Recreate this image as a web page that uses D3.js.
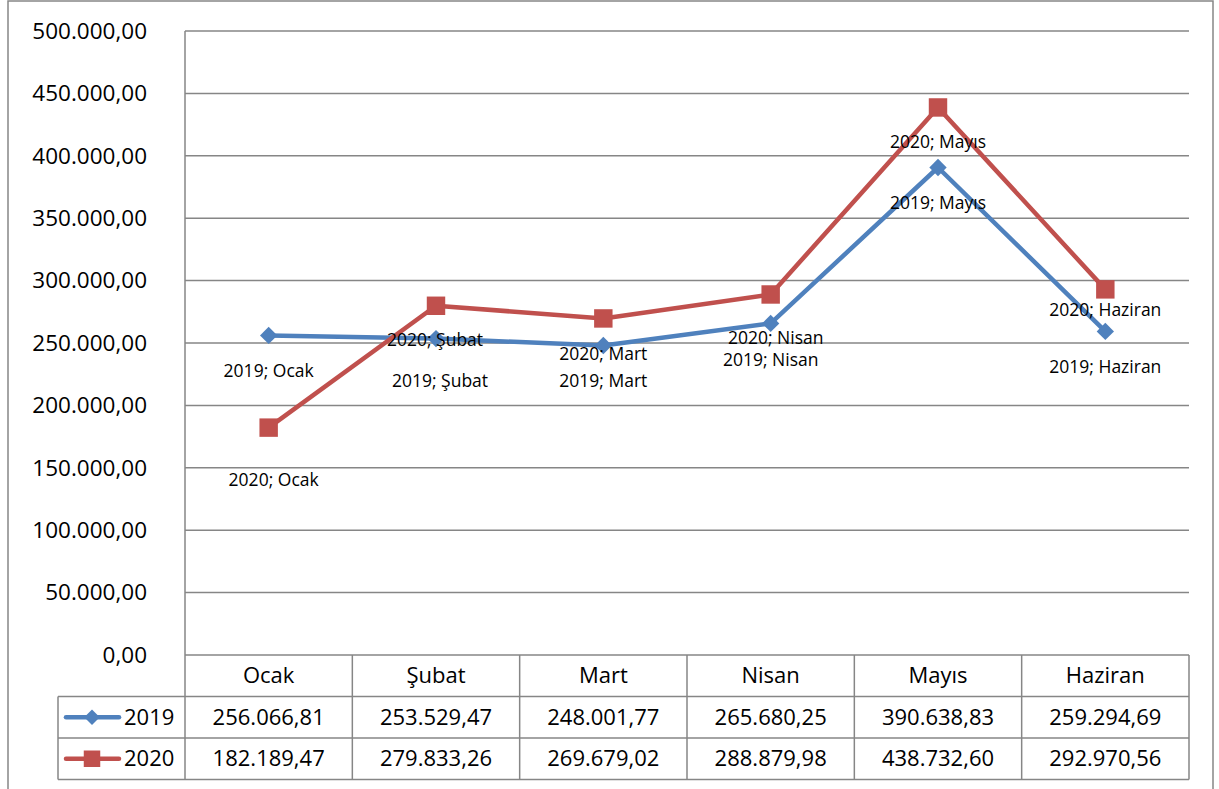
<!DOCTYPE html>
<html>
<head>
<meta charset="utf-8">
<script src="https://cdn.jsdelivr.net/npm/d3@7"></script>
<style>
  body { margin: 0; background: #fff; }
  text { font-family: "Open Sans", sans-serif; fill: #000; }
</style>
</head>
<body>
<svg id="grafico" width="1219" height="789"></svg>
<script>
// datos
const aylar = ["Ocak", "Şubat", "Mart", "Nisan", "Mayıs", "Haziran"];
const yillar = ["2019", "2020"];
const valores2019 = [256066.81, 253529.47, 248001.77, 265680.25, 390638.83, 259294.69];
const valores2020 = [182189.47, 279833.26, 269679.02, 288879.98, 438732.60, 292970.56];
const ticksY = [0, 50000, 100000, 150000, 200000, 250000, 300000, 350000, 400000, 450000, 500000];

// desplazamiento de las etiquetas (dx, dy) respecto al punto
const desp2019 = [[0, 35], [4, 42], [0, 35], [0, 36], [0, 35], [0, 35]];
const desp2020 = [[5, 52], [-1, 34], [0, 35], [5, 43], [0, 34], [0, 21]];

const azul = "#4F81BD", rojo = "#C0504D", gris = "#868686";

const formato = d3.formatLocale({ decimal: ",", thousands: ".", grouping: [3] }).format(",.2f");

const svg = d3.select("#grafico");
const izq = 185, der = 1189, arriba = 31, abajo = 655;
const filaH = 41.5;

const x = d3.scaleBand().domain(aylar).range([izq, der]);
const y = d3.scaleLinear().domain([0, 500000]).range([abajo, arriba]);

// marco exterior
svg.append("rect").attr("x", 8).attr("y", 1).attr("width", 1205).attr("height", 800)
  .attr("fill", "none").attr("stroke", gris).attr("stroke-width", 1.5);

// lineas de la grilla
svg.append("g").selectAll("line").data(ticksY).enter().append("line")
  .attr("x1", izq).attr("x2", der)
  .attr("y1", d => y(d)).attr("y2", d => y(d))
  .attr("stroke", gris).attr("stroke-width", 1.5);

// etiquetas eje y
svg.append("g").selectAll("text").data(ticksY).enter().append("text")
  .attr("x", 147).attr("y", d => y(d)).attr("dy", "0.35em")
  .attr("text-anchor", "end").style("font-size", "22.5px")
  .text(d => formato(d));

// tabla de datos
const filas = [abajo, abajo + filaH, abajo + 2 * filaH, abajo + 3 * filaH];
const tabla = svg.append("g").attr("stroke", gris).attr("stroke-width", 1.5);
tabla.append("line").attr("x1", izq).attr("x2", izq).attr("y1", arriba).attr("y2", filas[3]);
tabla.selectAll(".v").data(aylar).enter().append("line")
  .attr("x1", d => x(d) + x.bandwidth()).attr("x2", d => x(d) + x.bandwidth())
  .attr("y1", abajo).attr("y2", filas[3]);
tabla.append("line").attr("x1", 58).attr("x2", 58).attr("y1", filas[1]).attr("y2", filas[3]);
[filas[1], filas[2], filas[3]].forEach(f => {
  tabla.append("line").attr("x1", 58).attr("x2", der).attr("y1", f).attr("y2", f);
});

// encabezados
svg.append("g").selectAll("text").data(aylar).enter().append("text")
  .attr("x", d => x(d) + x.bandwidth() / 2).attr("y", (filas[0] + filas[1]) / 2)
  .attr("dy", "0.35em").attr("text-anchor", "middle").style("font-size", "22px")
  .text(d => d);

// el rombo es un cuadrado girado 45 grados
const series = [
  { nombre: yillar[0], valores: valores2019, color: azul, tam: 150, giro: 45, desp: desp2019 },
  { nombre: yillar[1], valores: valores2020, color: rojo, tam: 340, giro: 0, desp: desp2020 }
];

series.forEach((s, i) => {
  const yc = (filas[i + 1] + filas[i + 2]) / 2;
  const g = svg.append("g");
  g.selectAll("text").data(s.valores).enter().append("text")
    .attr("x", (d, j) => x(aylar[j]) + x.bandwidth() / 2).attr("y", yc)
    .attr("dy", "0.35em").attr("text-anchor", "middle").style("font-size", "22px")
    .text(d => formato(d));
  // leyenda
  g.append("line").attr("x1", 66).attr("x2", 119).attr("y1", yc).attr("y2", yc)
    .attr("stroke", s.color).attr("stroke-width", 4.5).attr("stroke-linecap", "round");
  g.append("path").attr("d", d3.symbol().type(d3.symbolSquare).size(s.tam * 0.8)())
    .attr("transform", `translate(92,${yc}) rotate(${s.giro})`).attr("fill", s.color);
  g.append("text").attr("x", 124).attr("y", yc).attr("dy", "0.35em")
    .style("font-size", "22px").text(s.nombre);
});

// lineas de las series
const linea = d3.line()
  .x((d, j) => x(aylar[j]) + x.bandwidth() / 2)
  .y(d => y(d));

series.forEach(s => {
  svg.append("path").datum(s.valores).attr("d", linea)
    .attr("fill", "none").attr("stroke", s.color).attr("stroke-width", 4.5)
    .attr("stroke-linejoin", "round");
});

series.forEach(s => {
  svg.append("g").selectAll("path").data(s.valores).enter().append("path")
    .attr("d", d3.symbol().type(d3.symbolSquare).size(s.tam)())
    .attr("transform", (d, j) => `translate(${x(aylar[j]) + x.bandwidth() / 2},${y(d)}) rotate(${s.giro})`)
    .attr("fill", s.color);
});

// etiquetas de datos
series.forEach(s => {
  svg.append("g").selectAll("text").data(s.valores).enter().append("text")
    .attr("x", (d, j) => x(aylar[j]) + x.bandwidth() / 2 + s.desp[j][0])
    .attr("y", (d, j) => y(d) + s.desp[j][1])
    .attr("dy", "0.35em").attr("text-anchor", "middle").style("font-size", "17.5px")
    .text((d, j) => s.nombre + "; " + aylar[j]);
});
</script>
</body>
</html>
